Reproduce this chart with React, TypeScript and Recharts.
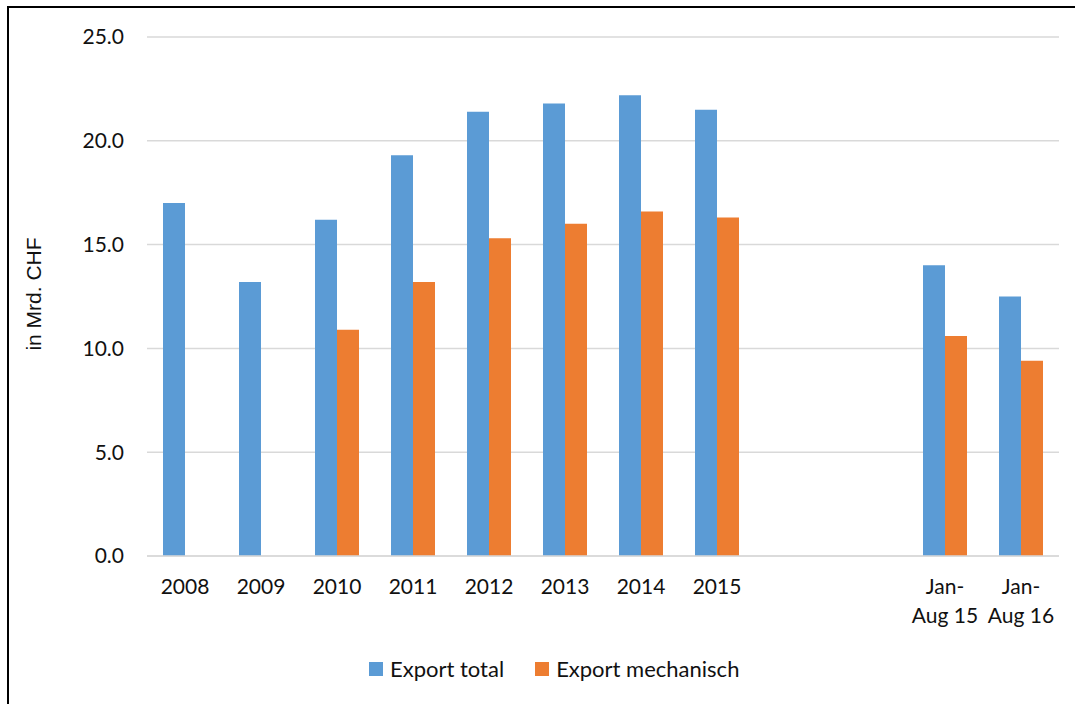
import { BarChart, Bar, XAxis, YAxis, CartesianGrid, Legend } from 'recharts';

const categories = ['2008', '2009', '2010', '2011', '2012', '2013', '2014', '2015', '', '', 'Jan-\nAug 15', 'Jan-\nAug 16'];
const exportTotal = [17.0, 13.2, 16.2, 19.3, 21.4, 21.8, 22.2, 21.5, null, null, 14.0, 12.5];
const exportMechanisch = [null, null, 10.9, 13.2, 15.3, 16.0, 16.6, 16.3, null, null, 10.6, 9.4];
const yTicks = [0, 5, 10, 15, 20, 25];

const data = categories.map((name, i) => ({
  name,
  total: exportTotal[i],
  mech: exportMechanisch[i],
}));

const BLUE = '#5b9bd5';
const ORANGE = '#ed7d31';
const TEXT = '#111';
const FONT = 'Lato, "Open Sans", sans-serif';

function CategoryTick(props: any) {
  const { x, y, payload } = props;
  const lines = String(payload.value).split('\n');
  return (
    <text x={x} y={y} textAnchor="middle" fill={TEXT} fontSize={21} fontFamily={FONT}>
      {lines.map((line, i) => (
        <tspan key={i} x={x} dy={i === 0 ? 0 : 29}>
          {line}
        </tspan>
      ))}
    </text>
  );
}

function AxisTitle() {
  return (
    <text
      x={33}
      y={294}
      transform="rotate(-90, 33, 294)"
      textAnchor="middle"
      dominantBaseline="central"
      fill={TEXT}
      fontSize={21}
      fontFamily='"Liberation Sans", Arial, sans-serif'
    >
      in Mrd. CHF
    </text>
  );
}

function LegendRow() {
  const items = [
    { label: 'Export total', color: BLUE },
    { label: 'Export mechanisch', color: ORANGE },
  ];
  return (
    <div style={{ display: 'flex', alignItems: 'center', fontFamily: FONT, fontSize: 22, color: TEXT, whiteSpace: 'nowrap' }}>
      {items.map((it, i) => (
        <div key={it.label} style={{ display: 'flex', alignItems: 'center', marginRight: i === 0 ? 31 : 0 }}>
          <span style={{ width: 14, height: 14, background: it.color, display: 'inline-block', marginRight: 7 }} />
          <span>{it.label}</span>
        </div>
      ))}
    </div>
  );
}

export default function App() {
  return (
    <div style={{ position: 'fixed', left: 0, top: 0, width: 1075, height: 704, overflow: 'hidden', background: '#fff' }}>
      <div
        style={{
          position: 'absolute',
          left: 7,
          top: 6,
          width: 1200,
          height: 800,
          border: '2px solid #000',
          boxSizing: 'border-box',
        }}
      />
      <div style={{ position: 'absolute', left: 0, top: 0 }}>
        <BarChart
          width={1075}
          height={704}
          data={data}
          margin={{ top: 37, right: 16, left: 0, bottom: 88 }}
          barSize={22}
          barGap={0}
        >
          <CartesianGrid horizontal vertical={false} stroke="#d9d9d9" strokeWidth={1.5} />
          <XAxis
            dataKey="name"
            height={60}
            interval={0}
            tick={<CategoryTick />}
            tickLine={false}
            tickSize={0}
            tickMargin={38}
            axisLine={{ stroke: '#d9d9d9', strokeWidth: 1.5 }}
          />
          <YAxis
            width={147}
            domain={[0, 25]}
            ticks={yTicks}
            interval={0}
            tickFormatter={(v) => Number(v).toFixed(1)}
            tick={{ fontSize: 21, fill: TEXT, fontFamily: FONT }}
            tickLine={false}
            tickSize={0}
            tickMargin={23}
            axisLine={false}
            label={<AxisTitle />}
          />
          <Legend
            layout="horizontal"
            verticalAlign="middle"
            align="center"
            wrapperStyle={{ left: 369, top: 655, width: 'auto' }}
            content={<LegendRow />}
          />
          <Bar dataKey="total" name="Export total" fill={BLUE} isAnimationActive={false} />
          <Bar dataKey="mech" name="Export mechanisch" fill={ORANGE} isAnimationActive={false} />
        </BarChart>
      </div>
    </div>
  );
}
